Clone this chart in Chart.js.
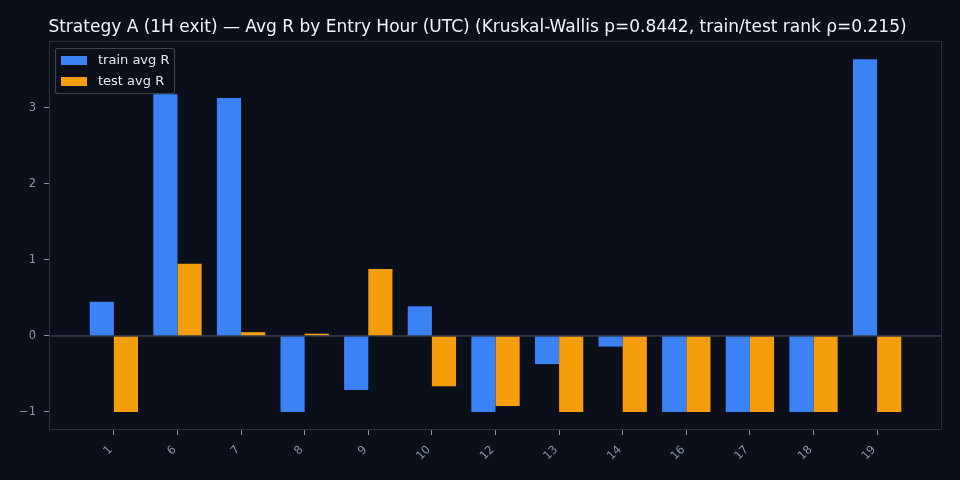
<!DOCTYPE html>
<html>
<head>
<meta charset="utf-8">
<script src="https://cdn.jsdelivr.net/npm/chart.js@4.4.1/dist/chart.umd.min.js"></script>
<style>
  html, body { margin: 0; padding: 0; background: #0b0f19; }
  canvas { display: block; }
</style>
</head>
<body>
<canvas id="chart" width="960" height="480"></canvas>
<script>
// ---- data ----
const hours = ['1', '6', '7', '8', '9', '10', '12', '13', '14', '16', '17', '18', '19'];
const trainAvgR = [0.45, 3.18, 3.13, -1.0, -0.71, 0.39, -1.0, -0.37, -0.14, -1.0, -1.0, -1.0, 3.64];
const testAvgR = [-1.0, 0.95, 0.05, 0.03, 0.88, -0.66, -0.92, -1.0, -1.0, -1.0, -1.0, -1.0, -1.0];
const yTicks = [-1, 0, 1, 2, 3];
const titleText = 'Strategy A (1H exit) \u2014 Avg R by Entry Hour (UTC) (Kruskal-Wallis p=0.8442, train/test rank \u03c1=0.215)';

const BG = '#0b0f19';
const FRAME = '#262d3b';
const TICK = '#8b94a7';
const FONT = 'DejaVu Sans';

// ==========================================
// title, frame, zero line and legend box
// ==========================================
const decorations = {
  id: 'decorations',
  beforeDraw(chart) {
    const ctx = chart.ctx;
    ctx.save();
    ctx.fillStyle = BG;
    ctx.fillRect(0, 0, chart.width, chart.height);
    ctx.fillStyle = '#f3f4f6';
    ctx.font = '17px ' + FONT;
    ctx.textAlign = 'center';
    ctx.textBaseline = 'alphabetic';
    ctx.fillText(titleText, 477.5, 32);
    ctx.restore();
  },
  afterDatasetsDraw(chart) {
    const ctx = chart.ctx;
    const a = chart.chartArea;
    const y0 = chart.scales.y.getPixelForValue(0);
    ctx.save();
    ctx.strokeStyle = '#4a5568';
    ctx.lineWidth = 1;
    ctx.beginPath();
    ctx.moveTo(a.left, y0);
    ctx.lineTo(a.right, y0);
    ctx.stroke();

    ctx.strokeStyle = FRAME;
    ctx.strokeRect(a.left + 0.5, a.top + 0.5, a.right - a.left - 1, a.bottom - a.top - 1);

    // legend
    const lx = a.left + 6, ly = a.top + 7, lw = 119, lh = 45;
    ctx.fillStyle = 'rgba(11,15,25,0.85)';
    ctx.strokeStyle = '#3b414d';
    ctx.lineWidth = 1.2;
    ctx.beginPath();
    ctx.roundRect(lx + 0.5, ly + 0.5, lw, lh, 2);
    ctx.fill();
    ctx.stroke();
    ctx.font = '13px ' + FONT;
    ctx.textBaseline = 'middle';
    chart.data.datasets.forEach((ds, i) => {
      const ry = ly + 12 + i * 21;
      ctx.fillStyle = ds.backgroundColor;
      ctx.fillRect(lx + 6, ry - 4, 26, 9);
      ctx.fillStyle = '#e5e7eb';
      ctx.fillText(ds.label, lx + 43, ry + 1);
    });
    ctx.restore();
  }
};

const ctx = document.getElementById('chart').getContext('2d');
new Chart(ctx, {
  type: 'bar',
  data: {
    datasets: [
      { label: 'train avg R', data: trainAvgR.map((v, i) => ({ x: i, y: v })), backgroundColor: '#3b82f6' },
      { label: 'test avg R', data: testAvgR.map((v, i) => ({ x: i, y: v })), backgroundColor: '#f59e0b' }
    ]
  },
  plugins: [decorations],
  options: {
    responsive: false, animation: false,
    devicePixelRatio: 1,
    categoryPercentage: 0.76, barPercentage: 1.0,
    layout: { padding: { left: 0, right: 18, top: 41, bottom: 0 } },
    plugins: {
      legend: { display: false },
      tooltip: { enabled: false },
      title: { display: false }
    },
    scales: {
      x: {
        type: 'linear', min: -1.02, max: 13.02, offset: false,
        afterBuildTicks: s => { s.ticks = hours.map((h, i) => ({ value: i })); },
        afterFit: s => { s.height = 50; },
        ticks: {
          color: TICK, font: { family: FONT, size: 11.5 },
          minRotation: 45, maxRotation: 45, padding: 8, labelOffset: -3,
          callback: v => hours[v]
        },
        grid: { offset: false, drawOnChartArea: false, drawTicks: true, tickLength: 5, tickColor: TICK, tickWidth: 1 },
        border: { display: false }
      },
      y: {
        min: -1.237, max: 3.88,
        afterBuildTicks: s => { s.ticks = yTicks.map(v => ({ value: v })); },
        afterFit: s => { s.width = 49; },
        ticks: {
          color: TICK, font: { family: FONT, size: 11.5 }, padding: 8,
          callback: v => (v < 0 ? '\u2212' + Math.abs(v) : String(v))
        },
        grid: { drawOnChartArea: false, drawTicks: true, tickLength: 5, tickColor: TICK, tickWidth: 1 },
        border: { display: false }
      }
    }
  }
});
</script>
</body>
</html>
